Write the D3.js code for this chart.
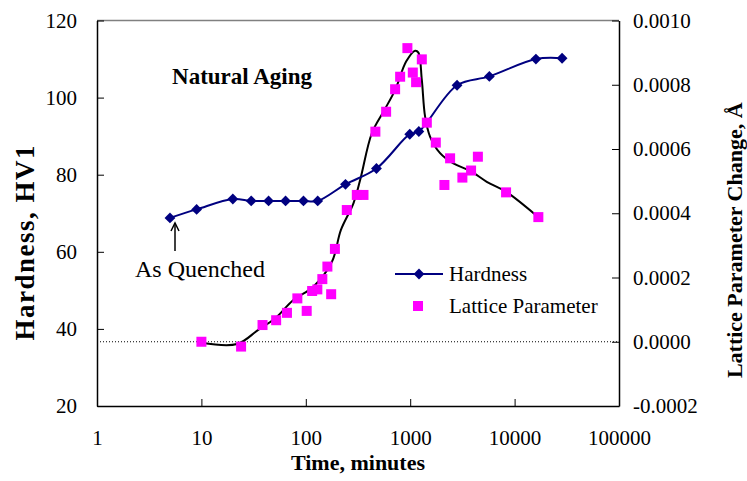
<!DOCTYPE html>
<html>
<head>
<meta charset="utf-8">
<script src="https://cdn.jsdelivr.net/npm/d3@7"></script>
<style>
  html, body { margin: 0; padding: 0; background: #fff; }
  svg { display: block; font-family: "Liberation Serif", "Times New Roman", serif; }
</style>
</head>
<body>
<svg id="chart" width="747" height="481"></svg>
<script>
// ---- data ----
const timeTicks = [1, 10, 100, 1000, 10000, 100000];
const hardnessTicks = [20, 40, 60, 80, 100, 120];
const latticeTicks = [-0.0002, 0, 0.0002, 0.0004, 0.0006, 0.0008, 0.0010];

const hardnessTime  = [5, 9, 20, 30, 44, 64, 95, 130, 240, 475, 990, 1210, 2810, 5730, 16000, 28500];
const hardnessValue = [68.8, 71.0, 73.7, 73.2, 73.2, 73.2, 73.2, 73.2, 77.5, 81.6, 90.5, 91.2, 103.2, 105.5, 110.0, 110.2];

const latticeTime  = [10, 24, 38.5, 52, 66, 83, 102, 115, 129, 144, 161, 175, 190, 247, 308, 357,
                      464, 588, 717, 801, 940, 1059, 1139, 1292, 1443, 1759, 2127, 2411, 3161, 3829, 4449, 8285, 16885];
const latticeValue = [0.0000, -0.000015, 0.000052, 0.000067, 0.00009, 0.000135, 0.000096, 0.000158, 0.000163, 0.000195, 0.000234, 0.000148, 0.000289, 0.00041, 0.000457, 0.000457,
                      0.000654, 0.000716, 0.000786, 0.000825, 0.000914, 0.000838, 0.000808, 0.000879, 0.000682, 0.00062, 0.000488, 0.000571, 0.000511, 0.000533, 0.000576, 0.000465, 0.000388];

const trendTime  = [10, 22, 35, 51, 76, 118, 178, 217, 286, 332, 429, 554, 718, 914, 1114, 1199, 1292, 1390, 1552, 1933, 2593, 3749, 5412, 8281, 16670];
const trendValue = [-0.000003, -0.000007, 0.000037, 0.000073, 0.00013, 0.000171, 0.000249, 0.000348, 0.000431, 0.000504, 0.000649, 0.000716, 0.000784, 0.000872, 0.000906, 0.0009, 0.000815, 0.0007, 0.000638, 0.000587, 0.000555, 0.000532, 0.000498, 0.000467, 0.000389];

// ---- layout ----
const svg = d3.select("#chart");
const L = 97, R = 619, T = 20.5, B = 406;

const x = d3.scaleLog().domain([1, 100000]).range([L, R]);
const yH = d3.scaleLinear().domain([20, 120]).range([B, T]);
const yL = d3.scaleLinear().domain([-0.0002, 0.0010]).range([B, T]);

// plot border (top)
svg.append("line").attr("x1", L).attr("x2", R).attr("y1", T).attr("y2", T)
  .attr("stroke", "#808080").attr("stroke-width", 1.5);

// zero line (dotted)
svg.append("line").attr("x1", L).attr("x2", R).attr("y1", yL(0)).attr("y2", yL(0))
  .attr("stroke", "#000").attr("stroke-width", 1).attr("stroke-dasharray", "1,2");

// axes
const axL = svg.append("g").attr("transform", `translate(${L},0)`)
  .call(d3.axisLeft(yH).tickValues(hardnessTicks).tickFormat(d3.format("d")).tickSizeInner(-7).tickSizeOuter(0).tickPadding(20));
const axR = svg.append("g").attr("transform", `translate(${R},0)`)
  .call(d3.axisRight(yL).tickValues(latticeTicks).tickFormat(d => d.toFixed(4)).tickSizeInner(-7).tickSizeOuter(0).tickPadding(14));
const axB = svg.append("g").attr("transform", `translate(0,${B})`)
  .call(d3.axisBottom(x).tickValues(timeTicks).tickFormat(d3.format("d")).tickSizeInner(-7).tickSizeOuter(0).tickPadding(24));

[axL, axR, axB].forEach(g => {
  g.select(".domain").attr("stroke", "#000").attr("stroke-width", 1.5);
  g.selectAll(".tick line").attr("stroke", "#000").attr("stroke-width", 1);
  g.selectAll(".tick text").attr("fill", "#000").style("font-size", "21px")
    .style("font-family", "'Liberation Serif', 'Times New Roman', serif");
});

// axis titles
svg.append("text").attr("transform", `translate(34,${(T + B) / 2 + 29}) rotate(-90)`)
  .attr("text-anchor", "middle").style("font-size", "27px").style("font-weight", "bold")
  .style("letter-spacing", "1.5px")
  .text("Hardness, HV1");
svg.append("text").attr("transform", `translate(742,${(T + B) / 2 + 27}) rotate(-90)`)
  .attr("text-anchor", "middle").style("font-size", "22px").style("font-weight", "bold")
  .text("Lattice Parameter Change, Å");
svg.append("text").attr("x", (L + R) / 2).attr("y", 470)
  .attr("text-anchor", "middle").style("font-size", "22px").style("font-weight", "bold")
  .text("Time, minutes");

// trend curve (black)
const trend = trendTime.map((t, i) => [t, trendValue[i]]);
svg.append("path").datum(trend)
  .attr("fill", "none").attr("stroke", "#000").attr("stroke-width", 2)
  .attr("d", d3.line().x(d => x(d[0])).y(d => yL(d[1])).curve(d3.curveCatmullRom.alpha(0.5)));

// hardness line + diamonds
const hard = hardnessTime.map((t, i) => [t, hardnessValue[i]]);
svg.append("path").datum(hard)
  .attr("fill", "none").attr("stroke", "#000080").attr("stroke-width", 2)
  .attr("d", d3.line().x(d => x(d[0])).y(d => yH(d[1])).curve(d3.curveCatmullRom.alpha(0.5)));

const diamond = d3.symbol().type(d3.symbolDiamond2).size(75);
svg.append("g").selectAll("path").data(hard).join("path")
  .attr("transform", d => `translate(${x(d[0])},${yH(d[1])})`)
  .attr("d", diamond).attr("fill", "#000080");

// lattice squares
const lat = latticeTime.map((t, i) => [t, latticeValue[i]]);
const sq = 10;
svg.append("g").selectAll("rect").data(lat).join("rect")
  .attr("x", d => x(d[0]) - sq / 2).attr("y", d => yL(d[1]) - sq / 2)
  .attr("width", sq).attr("height", sq).attr("fill", "#FF00FF");

// annotations
svg.append("text").attr("x", 242).attr("y", 84)
  .attr("text-anchor", "middle").style("font-size", "23px").style("font-weight", "bold")
  .text("Natural Aging");

svg.append("text").attr("x", 200).attr("y", 277)
  .attr("text-anchor", "middle").style("font-size", "24px")
  .text("As Quenched");

svg.append("line").attr("x1", 175).attr("y1", 251).attr("x2", 175).attr("y2", 223)
  .attr("stroke", "#000").attr("stroke-width", 1.5);
svg.append("path").attr("d", "M171,231 L175,223 L179,231")
  .attr("fill", "none").attr("stroke", "#000").attr("stroke-width", 1.5);

// legend
const lg = svg.append("g");
lg.append("line").attr("x1", 395).attr("x2", 443).attr("y1", 274).attr("y2", 274)
  .attr("stroke", "#000080").attr("stroke-width", 2);
lg.append("path").attr("transform", "translate(419,274)").attr("d", diamond).attr("fill", "#000080");
lg.append("text").attr("x", 449).attr("y", 281).style("font-size", "21px").text("Hardness");
lg.append("rect").attr("x", 413).attr("y", 301).attr("width", sq).attr("height", sq).attr("fill", "#FF00FF");
lg.append("text").attr("x", 449).attr("y", 313).style("font-size", "21px").text("Lattice Parameter");
</script>
</body>
</html>
